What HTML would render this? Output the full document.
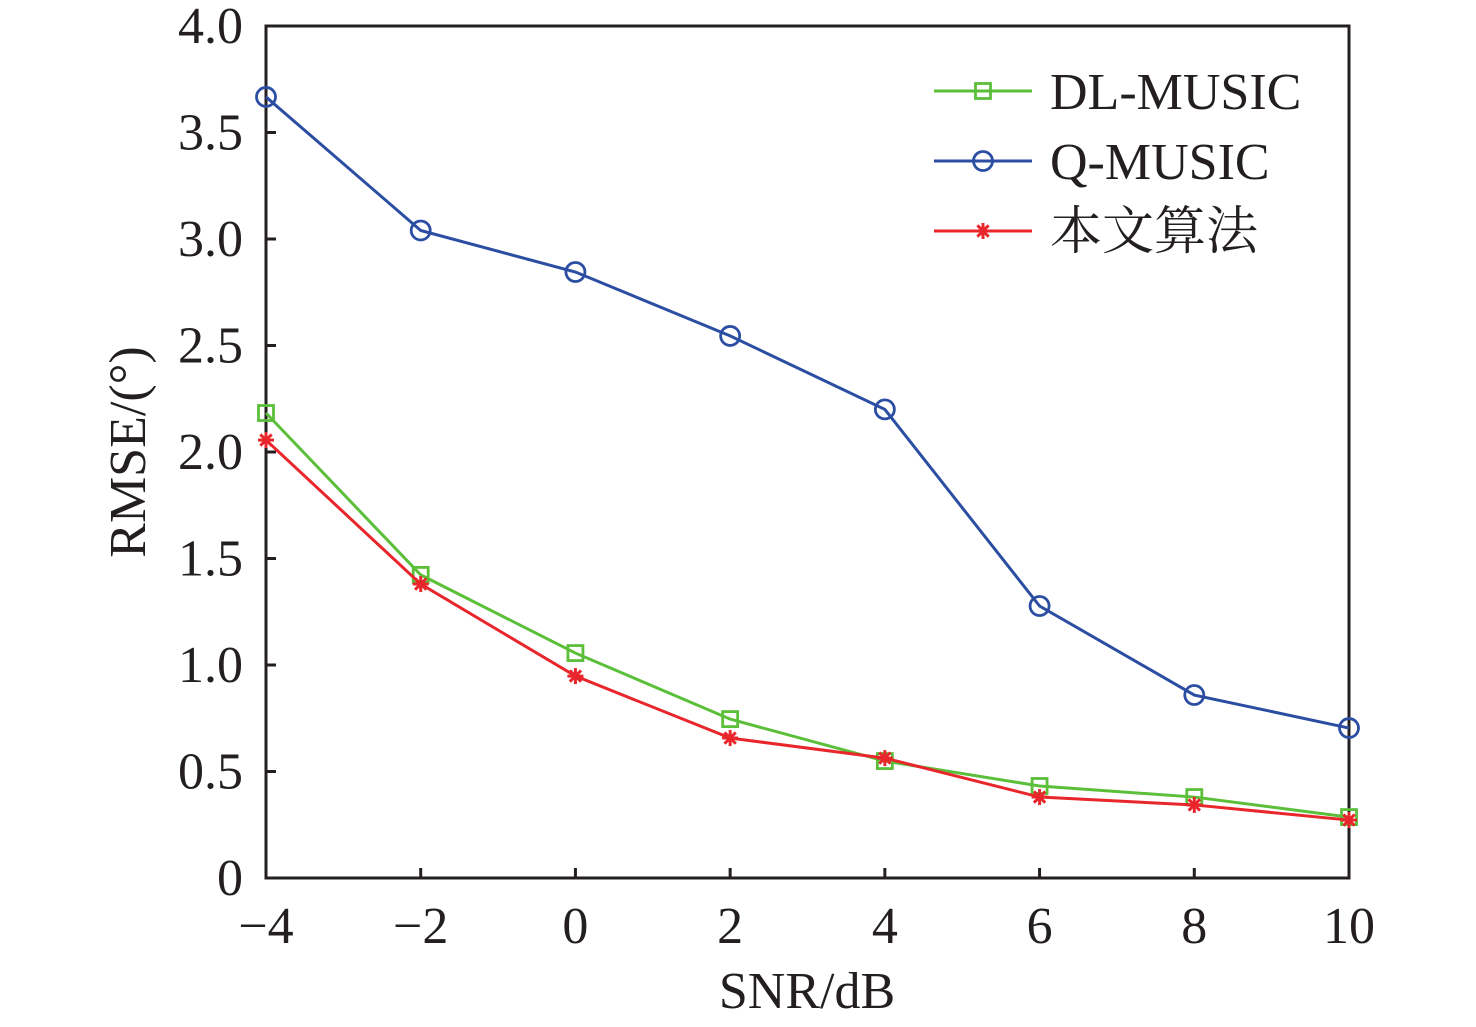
<!DOCTYPE html>
<html><head><meta charset="utf-8"><style>body{margin:0;background:#fff}svg{display:block}text{font-family:"Liberation Serif","Noto Serif CJK SC",serif;fill:#231f20}</style></head>
<body>
<svg id="chart" width="1476" height="1027" viewBox="0 0 1476 1027" xmlns="http://www.w3.org/2000/svg"></svg>
<script>
const xCats=[-4,-2,0,2,4,6,8,10];
const xTickLabels=["\u22124","\u22122","0","2","4","6","8","10"];
const yTicks=[0,0.5,1.0,1.5,2.0,2.5,3.0,3.5,4.0];
const yTickLabels=["0","0.5","1.0","1.5","2.0","2.5","3.0","3.5","4.0"];
const dlMusic=[2.183,1.423,1.056,0.746,0.549,0.432,0.380,0.286];
const qMusic=[3.667,3.04,2.845,2.545,2.20,1.277,0.859,0.704];
const ours=[2.056,1.380,0.948,0.657,0.563,0.380,0.343,0.272];
const L=266,R=1349,T=26,B=878;
const sx=v=>L+(v+4)/14*(R-L);
const sy=v=>B-v/4*(B-T);
const svg=document.getElementById('chart');
const NS='http://www.w3.org/2000/svg';
function mk(tag,attrs,parent){const e=document.createElementNS(NS,tag);for(const k in attrs)e.setAttribute(k,attrs[k]);(parent||svg).appendChild(e);return e;}
let e=mk('rect',{x:L,y:T,width:R-L,height:B-T,fill:'none',stroke:'#231f20','stroke-width':3});

xCats.forEach((c,i)=>{
 let t=mk('line',{x1:sx(c),x2:sx(c),y1:B,y2:B-10,stroke:'#231f20','stroke-width':3});
 
 let l=mk('text',{x:sx(c),y:943,'font-size':52,'text-anchor':'middle'});l.textContent=xTickLabels[i];
 
});
yTicks.forEach((v,i)=>{
 let t=mk('line',{x1:L,x2:L+10,y1:sy(v),y2:sy(v),stroke:'#231f20','stroke-width':3});
 
 let l=mk('text',{x:243,y:sy(v)+17,'font-size':52,'text-anchor':'end'});l.textContent=yTickLabels[i];
 
});
let xt=mk('text',{x:807,y:1008,'font-size':52,'text-anchor':'middle'});xt.textContent='SNR/dB';

let yt=mk('text',{x:0,y:0,'font-size':52,'text-anchor':'middle',transform:'translate(145,452) rotate(-90)'});yt.textContent='RMSE/(°)';

function marker(type,x,y,color,g){
 if(type==='square'){mk('rect',{x:x-7.5,y:y-7.5,width:15,height:15,fill:'none',stroke:color,'stroke-width':2.8},g);}
 else if(type==='circle'){mk('circle',{cx:x,cy:y,r:9.5,fill:'none',stroke:color,'stroke-width':2.8},g);}
 else{for(let a=0;a<180;a+=45){const r=a*Math.PI/180,dx=8*Math.cos(r),dy=8*Math.sin(r);mk('line',{x1:x-dx,y1:y-dy,x2:x+dx,y2:y+dy,stroke:color,'stroke-width':3},g);}}
}
const series=[{name:'q-music',vals:qMusic,color:'#2b4ea2',m:'circle'},{name:'dl-music',vals:dlMusic,color:'#5bbf3a',m:'square'},{name:'ours',vals:ours,color:'#e8262b',m:'star'}];
series.forEach(s=>{
 const g=mk('g',{});
 mk('polyline',{points:s.vals.map((v,i)=>sx(xCats[i])+','+sy(v)).join(' '),fill:'none',stroke:s.color,'stroke-width':3},g);
 s.vals.forEach((v,i)=>marker(s.m,sx(xCats[i]),sy(v),s.color,g));
});
const leg=[{label:'DL-MUSIC',color:'#5bbf3a',m:'square',y:91},{label:'Q-MUSIC',color:'#2b4ea2',m:'circle',y:161},{label:'本文算法',color:'#e8262b',m:'star',y:231}];
leg.forEach(d=>{
 const g=mk('g',{});
 mk('line',{x1:934,x2:1032,y1:d.y,y2:d.y,stroke:d.color,'stroke-width':3},g);
 marker(d.m,983,d.y,d.color,g);
 const t=mk('text',{x:1050,y:d.y+18,'font-size':52},g);t.textContent=d.label;
});
</script>
</body></html>
